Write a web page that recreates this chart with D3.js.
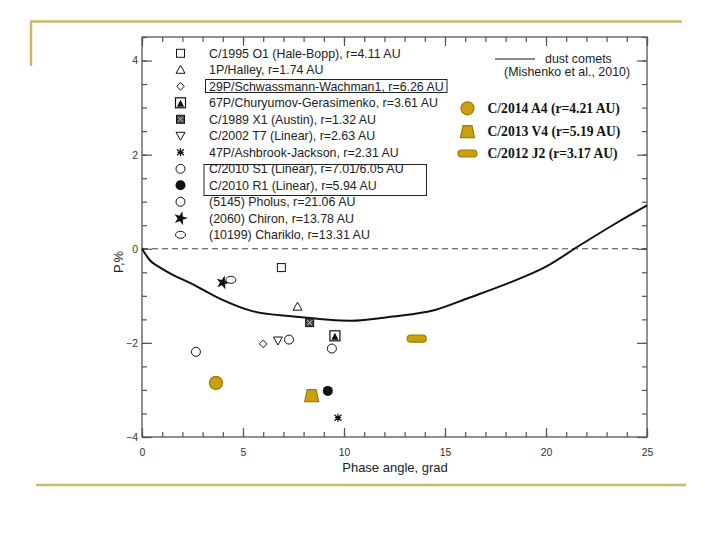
<!DOCTYPE html>
<html><head><meta charset="utf-8">
<script src="https://cdn.jsdelivr.net/npm/d3@7"></script>
<style>body{margin:0;background:#fff}svg{display:block}</style>
</head><body>
<svg id="chart" width="720" height="540"></svg>
<script>
// ---- data ----
const curvePhase = [0, 0.4, 0.9, 1.5, 2.4, 3.9, 5.5, 7.5, 10.3, 12.4, 14.5, 16.2, 18.2, 20, 21.7, 23.3, 25];
const curvePol   = [0, -0.25, -0.4, -0.55, -0.73, -1.07, -1.33, -1.44, -1.53, -1.44, -1.3, -1.04, -0.72, -0.38, 0.08, 0.5, 0.92];

const legendNames = [
  "C/1995 O1 (Hale-Bopp),  r=4.11 AU",
  "1P/Halley, r=1.74 AU",
  "29P/Schwassmann-Wachman1, r=6.26 AU",
  "67P/Churyumov-Gerasimenko, r=3.61 AU",
  "C/1989 X1 (Austin), r=1.32 AU",
  "C/2002 T7 (Linear), r=2.63 AU",
  "47P/Ashbrook-Jackson, r=2.31 AU",
  "C/2010 S1 (Linear), r=7.01/6.05 AU",
  "C/2010 R1 (Linear), r=5.94 AU",
  "(5145) Pholus,  r=21.06 AU",
  "(2060) Chiron,  r=13.78 AU",
  "(10199) Chariklo,  r=13.31 AU"
];
const legendMarkers = ["square","triUp","diamond","sqTri","sqCross","triDown","asterisk","circle","dot","circle","star","ellipse"];

const obsMarker = ["square","star","ellipse","triUp","sqCross","sqTri","diamond","triDown","circle","circle","circle","dot","asterisk"];
const obsPhase  = [6.9, 4.0, 4.4, 7.7, 8.3, 9.55, 6.0, 6.73, 7.28, 9.4, 2.67, 9.2, 9.7];
const obsPol    = [-0.4, -0.72, -0.66, -1.23, -1.57, -1.85, -2.02, -1.95, -1.93, -2.12, -2.19, -3.02, -3.59];

const goldNames   = ["C/2014 A4 (r=4.21 AU)", "C/2013 V4 (r=5.19 AU)", "C/2012 J2 (r=3.17 AU)"];
const goldMarkers = ["gcircle", "gtrap", "gpill"];
const goldPhase   = [3.66, 8.4, 13.6];
const goldPol     = [-2.85, -3.12, -1.91];

const xTicks = [0, 5, 10, 15, 20, 25];
const yTicks = [-4, -2, 0, 2, 4];

// ---- layout ----
const svg = d3.select("#chart");
const L = 142, R = 647, T = 37, B = 437;
const x = d3.scaleLinear().domain([0, 25]).range([L, R]);
const y = d3.scaleLinear().domain([-4, 4.5]).range([B, T]);
const axisCol = "#555";
const GOLD = "#c9a10c", GOLDS = "#9c7c05";
const SANS = "Liberation Sans, Arial, sans-serif";

// decorative lines
svg.append("line").attr("x1",30).attr("x2",682).attr("y1",21.5).attr("y2",21.5).attr("stroke","#cbb967").attr("stroke-width",2.5);
svg.append("line").attr("x1",31).attr("x2",31).attr("y1",21).attr("y2",66).attr("stroke","#cbb967").attr("stroke-width",2.5);
svg.append("line").attr("x1",36).attr("x2",686).attr("y1",485).attr("y2",485).attr("stroke","#cbb967").attr("stroke-width",2.5);

// frame
svg.append("rect").attr("x",L).attr("y",T).attr("width",R-L).attr("height",B-T)
  .attr("fill","none").attr("stroke",axisCol).attr("stroke-width",1.3);

// axes with inward ticks
const gx = svg.append("g").attr("transform",`translate(0,${B})`);
gx.call(d3.axisBottom(x).tickValues(d3.range(0,26,1)).tickSize(-5).tickFormat(""));
gx.call(g=>g.select(".domain").remove());
const gxM = svg.append("g").attr("transform",`translate(0,${B})`);
gxM.call(d3.axisBottom(x).tickValues(xTicks).tickSize(-9).tickFormat(d3.format("d")));
gxM.select(".domain").remove();
gxM.selectAll("text").attr("dy","0").attr("y",19);
const gxT = svg.append("g").attr("transform",`translate(0,${T})`);
gxT.call(d3.axisTop(x).tickValues(d3.range(0,26,1)).tickSize(-5).tickFormat(""));
gxT.select(".domain").remove();
const gxT2 = svg.append("g").attr("transform",`translate(0,${T})`);
gxT2.call(d3.axisTop(x).tickValues(xTicks).tickSize(-9).tickFormat(""));
gxT2.select(".domain").remove();

const gy = svg.append("g").attr("transform",`translate(${L},0)`);
gy.call(d3.axisLeft(y).tickValues(d3.range(-4,4.51,0.5)).tickSize(-5).tickFormat(""));
gy.select(".domain").remove();
const gyM = svg.append("g").attr("transform",`translate(${L},0)`);
gyM.call(d3.axisLeft(y).tickValues(yTicks).tickSize(-10).tickFormat(d=>d<0?"\u2212"+Math.abs(d):d));
gyM.select(".domain").remove();
gyM.selectAll("text").attr("x",-4);
const gyR = svg.append("g").attr("transform",`translate(${R},0)`);
gyR.call(d3.axisRight(y).tickValues(d3.range(-4,4.51,0.5)).tickSize(-5).tickFormat(""));
gyR.select(".domain").remove();
const gyR2 = svg.append("g").attr("transform",`translate(${R},0)`);
gyR2.call(d3.axisRight(y).tickValues(yTicks).tickSize(-10).tickFormat(""));
gyR2.select(".domain").remove();

svg.selectAll(".tick line").attr("stroke",axisCol).attr("stroke-width",1.2);
svg.selectAll(".tick text").attr("fill","#333").attr("font-family",SANS).attr("font-size",10.5);

// axis titles
svg.append("text").attr("x",395).attr("y",472).attr("text-anchor","middle")
  .attr("font-family",SANS).attr("font-size",13).attr("fill","#222").text("Phase angle, grad");
svg.append("text").attr("transform","translate(123,262) rotate(-90)").attr("text-anchor","middle")
  .attr("font-family",SANS).attr("font-size",13).attr("fill","#222").text("P,%");

// zero dashed line
svg.append("line").attr("x1",x(0)).attr("x2",x(25)).attr("y1",y(0)).attr("y2",y(0))
  .attr("stroke","#444").attr("stroke-width",1).attr("stroke-dasharray","6,4");

// curve
const curve = curvePhase.map((p,i)=>[p,curvePol[i]]);
svg.append("path").datum(curve)
  .attr("d", d3.line().x(d=>x(d[0])).y(d=>y(d[1])).curve(d3.curveMonotoneX))
  .attr("fill","none").attr("stroke","#111").attr("stroke-width",2);

// markers
function marker(g, type, cx, cy) {
  const s = g.append("g").attr("transform",`translate(${cx},${cy})`);
  const k = "#111";
  switch(type){
    case "square": s.append("rect").attr("x",-4).attr("y",-4).attr("width",8).attr("height",8).attr("fill","#fff").attr("stroke",k).attr("stroke-width",1); break;
    case "triUp": s.append("path").attr("d","M0,-4.5L4.5,3.5L-4.5,3.5Z").attr("fill","#fff").attr("stroke",k).attr("stroke-width",1); break;
    case "triDown": s.append("path").attr("d","M0,4.5L4.5,-3.5L-4.5,-3.5Z").attr("fill","#fff").attr("stroke",k).attr("stroke-width",1); break;
    case "diamond": s.append("path").attr("d","M0,-3.8L3.8,0L0,3.8L-3.8,0Z").attr("fill","#fff").attr("stroke",k).attr("stroke-width",1); break;
    case "sqTri":
      s.append("rect").attr("x",-5).attr("y",-5).attr("width",10).attr("height",10).attr("fill","#fff").attr("stroke",k).attr("stroke-width",1.2);
      s.append("path").attr("d","M0,-3L3.6,4L-3.6,4Z").attr("fill",k); break;
    case "sqCross":
      s.append("rect").attr("x",-4).attr("y",-4).attr("width",8).attr("height",8).attr("fill","#444").attr("stroke",k).attr("stroke-width",1);
      s.append("path").attr("d","M-2.5,-2.5L2.5,2.5M2.5,-2.5L-2.5,2.5").attr("stroke","#ccc").attr("stroke-width",1); break;
    case "asterisk":
      s.append("path").attr("d","M0,-4L0,4M-3.5,-3L3.5,3M3.5,-3L-3.5,3M-3,0L3,0").attr("stroke",k).attr("stroke-width",1.2); break;
    case "circle": s.append("circle").attr("r",4.5).attr("fill","#fff").attr("stroke",k).attr("stroke-width",1); break;
    case "dot": s.append("circle").attr("r",5).attr("fill",k); break;
    case "ellipse": s.append("ellipse").attr("rx",5).attr("ry",3.5).attr("fill","#fff").attr("stroke",k).attr("stroke-width",1); break;
    case "star": s.append("path").attr("d",d3.symbol(d3.symbolStar,60)()).attr("fill",k).attr("transform","rotate(15)"); break;
    case "gcircle": s.append("circle").attr("r",6.5).attr("fill",GOLD).attr("stroke",GOLDS).attr("stroke-width",1.2); break;
    case "gtrap": s.append("path").attr("d","M-4.5,-6L4.5,-6L7,6L-7,6Z").attr("fill",GOLD).attr("stroke",GOLDS).attr("stroke-width",1.2); break;
    case "gpill": s.append("rect").attr("x",-9.5).attr("y",-3.5).attr("width",19).attr("height",7).attr("rx",3.5).attr("fill",GOLD).attr("stroke",GOLDS).attr("stroke-width",1.2); break;
  }
}

const gm = svg.append("g");
obsMarker.forEach((t,i)=>marker(gm,t,x(obsPhase[i]),y(obsPol[i])));
goldMarkers.forEach((t,i)=>marker(gm,t,x(goldPhase[i]),y(goldPol[i])));

// left legend
const ly0 = 53.3, ldy = 16.5;
const gl = svg.append("g");
legendNames.forEach((n,i)=>{
  marker(gl, legendMarkers[i], 180.5, ly0 + i*ldy);
  gl.append("text").attr("x",209).attr("y",ly0 + i*ldy).attr("dy","0.35em")
    .attr("font-family",SANS).attr("font-size",12.4).attr("fill","#222").text(n);
});
gl.append("rect").attr("x",205.5).attr("y",79.5).attr("width",241.5).attr("height",13).attr("fill","none").attr("stroke","#222").attr("stroke-width",1);
gl.append("rect").attr("x",204).attr("y",164.5).attr("width",222.5).attr("height",31).attr("fill","none").attr("stroke","#222").attr("stroke-width",1);

// right legend (curve)
svg.append("line").attr("x1",495).attr("x2",535).attr("y1",59).attr("y2",59).attr("stroke","#111").attr("stroke-width",1.2);
svg.append("text").attr("x",545).attr("y",59).attr("dy","0.35em").attr("font-family",SANS).attr("font-size",12.4).attr("fill","#222").text("dust comets");
svg.append("text").attr("x",504).attr("y",71.5).attr("dy","0.35em").attr("font-family",SANS).attr("font-size",12.4).attr("fill","#222").text("(Mishenko et al., 2010)");

// gold legend
const gy0 = [108.3, 131.7, 153.5];
goldNames.forEach((n,i)=>{
  marker(svg, goldMarkers[i], 467.5, gy0[i]);
  svg.append("text").attr("x",487.5).attr("y",gy0[i]).attr("dy","0.35em")
    .attr("font-family","Liberation Serif, Times New Roman, serif").attr("font-weight","bold").attr("font-size",13.6).attr("fill","#111").text(n);
});
</script>
</body></html>
